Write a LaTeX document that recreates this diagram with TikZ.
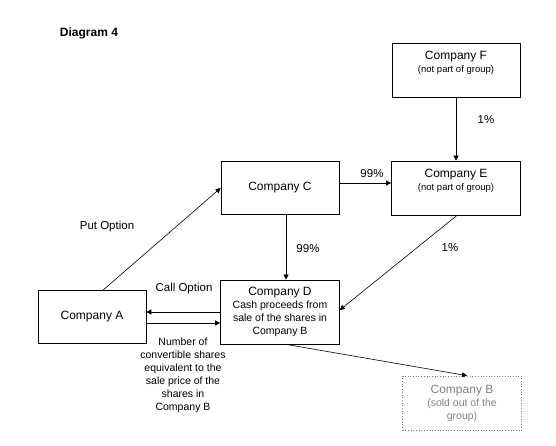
\documentclass[tikz,border=0pt]{standalone}
\usepackage{fontspec}
\setmainfont{Liberation Sans}
\usetikzlibrary{arrows.meta}

\begin{document}
\begin{tikzpicture}
        [x=1pt, y=-1pt, every node/.style={inner sep=0, align=center},
        box/.style args={#1 by #2}{draw, line width=0.7pt, minimum width=#1pt, minimum height=#2pt},
        title/.style={font=\fontsize{12}{14}\selectfont},
        small/.style={font=\fontsize{9.5}{12.5}\selectfont},
        body/.style={font=\fontsize{10.5}{13}\selectfont},
        lbl/.style={font=\fontsize{11.5}{13}\selectfont},
        conn/.style={-{Triangle[length=5pt,width=5pt]}, line width=0.6pt}]

        \useasboundingbox (0,0) rectangle (556,445);

        \node[font=\bfseries\fontsize{12}{14}\selectfont] (head) at (89,33) {Diagram 4};

        \node[box=128 by 54] (f) at (456,70) {};
        \node[small] (ftext) at ([yshift=7pt]f.center) {{\fontsize{12}{14}\selectfont Company F}\\ (not part of group)};
        \node[box=129 by 54] (e) at (456,188) {};
        \node[small] (etext) at ([yshift=7pt]e.center) {{\fontsize{12}{14}\selectfont Company E}\\ (not part of group)};
        \node[box=118 by 53, title] (c) at (280,188) {Company C};
        \node[box=119 by 64, body] (d) at (280,312) {{\fontsize{12}{14}\selectfont Company D}\\ Cash proceeds from\\ sale of the shares in\\ Company B};
        \node[box=108 by 53, title] (a) at (92,317) {Company A};
        \node[box=119 by 54, body, draw=gray, dotted, text=gray] (b) at (462,403) {{\fontsize{12}{14}\selectfont Company B}\\ (sold out of the\\ group)};

        \node[lbl] (p1) at (372,174) {99\%};
        \node[lbl] (p2) at (308,249) {99\%};
        \node[lbl] (p3) at (486,120) {1\%};
        \node[lbl] (p4) at (450,248) {1\%};
        \node[lbl] (put) at (107,227) {Put Option};
        \node[lbl] (call) at (184,289) {Call Option};
        \node[body] (num) at (183,375) {Number of\\ convertible shares\\ equivalent to the\\ sale price of the\\ shares in\\ Company B};

        \draw[conn] ([xshift=11pt]a.north) -- (c.west);
        \draw[conn] ([yshift=5pt]c.east) -- ([yshift=5pt]e.west);
        \draw[conn] (f.south) -- (e.north);
        \draw[conn] ([xshift=6pt]c.south) -- ([xshift=6pt]d.north);
        \draw[conn] ([xshift=1pt]e.south) -- ([yshift=2pt]d.east);
        \draw[conn] (d.west) -- ([yshift=5pt]a.east);
        \draw[conn] ([yshift=-6pt]a.east) -- ([yshift=-11pt]d.west);
        \draw[conn] ([xshift=6pt]d.south) -- ([xshift=5pt]b.north);

      \end{tikzpicture}
\end{document}
